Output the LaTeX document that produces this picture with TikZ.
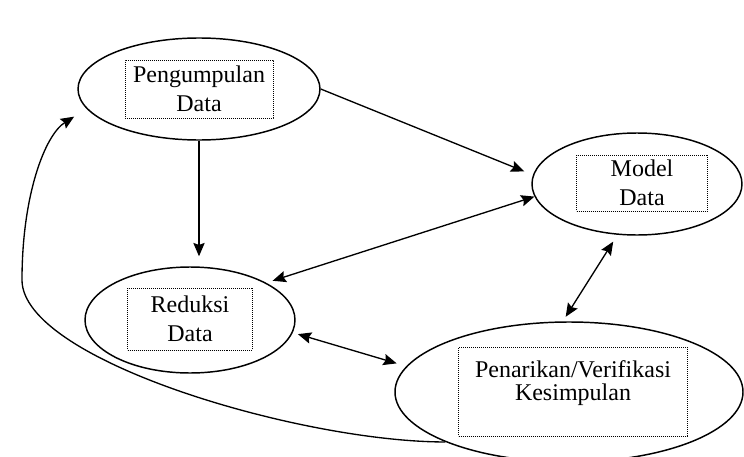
\documentclass[tikz,border=0pt]{standalone}
\usepackage{fontspec}
\setmainfont{Liberation Serif}
\usetikzlibrary{shapes.geometric}
\usetikzlibrary{arrows.meta}

\begin{document}
\begin{tikzpicture}[x=0.75pt,y=0.75pt,yscale=-1,xscale=1,
  elip/.style={ellipse, draw, line width=1.1pt, inner sep=0pt},
  dotbox/.style={draw, line width=0.6pt, dash pattern=on 0.6pt off 0.9pt, align=center, inner sep=0pt, font=\fontsize{18}{22}\selectfont},
  arr/.style={line width=1pt, -{Stealth[length=10pt,width=8.5pt,inset=1.5pt]}},
  dbl/.style={line width=1pt, {Stealth[length=10pt,width=8.5pt,inset=1.5pt]}-{Stealth[length=10pt,width=8.5pt,inset=1.5pt]}}]
\useasboundingbox (0,0) rectangle (744,457);

%Shape: Ellipse [Pengumpulan]
\node[elip, minimum width=181.5pt, minimum height=76.5pt] (peng) at (199,89) {};
%Shape: Ellipse [Model]
\node[elip, minimum width=157.5pt, minimum height=76.5pt] (model) at (637,184) {};
%Shape: Ellipse [Reduksi]
\node[elip, minimum width=157.5pt, minimum height=79.5pt] (red) at (190,320) {};
%Shape: Ellipse [Penarikan]
\node[elip, minimum width=261pt, minimum height=105pt] (pen) at (569,392) {};

% Text Node
\node[dotbox, minimum width=111pt, minimum height=43.5pt] (pengtxt) at (199,89) {Pengumpulan\\Data};
% Text Node
\node[dotbox, minimum width=98.25pt, minimum height=42pt] (modeltxt) at (642,183) {Model\\Data};
% Text Node
\node[dotbox, minimum width=93.75pt, minimum height=46.5pt] (redtxt) at (190,319) {Reduksi\\Data};
% Text Node
\node[dotbox, minimum width=171.75pt, minimum height=66.75pt, font=\fontsize{18}{17}\selectfont] (pentxt) at (573,392) {Penarikan/Verifikasi\\Kesimpulan\\\mbox{}};

%Arrows
\draw[arr, shorten >=7.5pt] (peng.south) -- (peng.south |- red.north);
\draw[arr, shorten >=7pt] (peng.east) -- (model.175);
\draw[dbl, shorten <=5pt] (red.26) -- (model.187);
\draw[dbl, shorten <=6pt, shorten >=4pt] (model.249) -- (pen.95);
\draw[dbl, shorten <=4pt, shorten >=7.5pt] (red.-7) -- (pen.171);
\draw[arr, shorten >=11pt] (pen.202) .. controls (300,442) and (22,360) .. (22,280) .. controls (22,195) and (45,135) .. (peng.190);

\end{tikzpicture}
\end{document}
